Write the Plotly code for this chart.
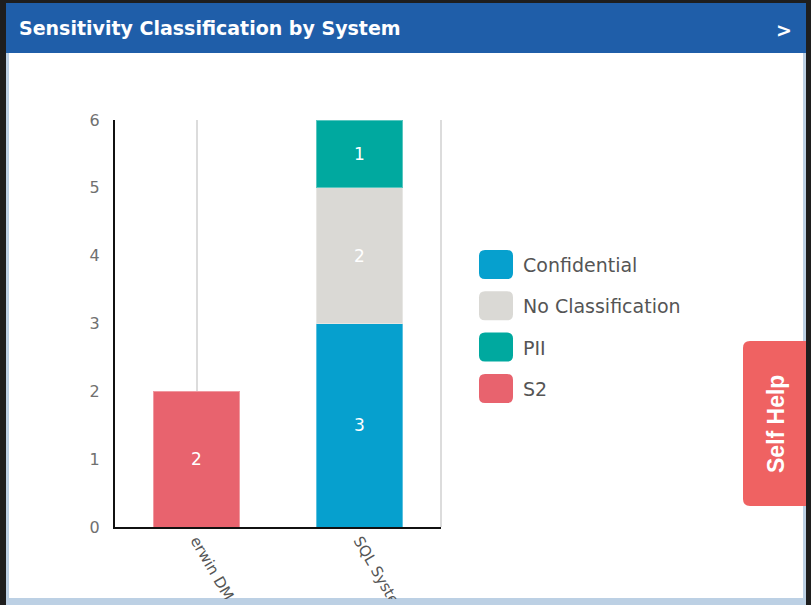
import plotly.graph_objects as go

# ---- data ----
systems = ["erwin DM", "SQL System"]
categories = ["Confidential", "No Classification", "PII", "S2"]
confidential = [None, 3]
no_classification = [None, 2]
pii = [None, 1]
s2 = [2, None]
y_ticks = [0, 1, 2, 3, 4, 5, 6]

series_values = [confidential, no_classification, pii, s2]
colors = ["#06A0CE", "#DAD9D5", "#00A99F", "#E8636E"]

W, H = 811, 605
PLOT_L, PLOT_R, PLOT_T, PLOT_B = 115, 441, 120, 527

FONT = "DejaVu Sans"


def px(x):
    return (x - PLOT_L) / (PLOT_R - PLOT_L)


def py(y):
    return (PLOT_B - y) / (PLOT_B - PLOT_T)


def rect(x0, y0, x1, y1, color, layer="below"):
    return dict(type="rect", xref="paper", yref="paper",
                x0=px(x0), x1=px(x1), y0=py(y1), y1=py(y0),
                fillcolor=color, line=dict(width=0), layer=layer)


def rounded(x0, y0, x1, y1, r, color, left_only=False, layer="above"):
    X0, X1 = px(x0), px(x1)
    Y0, Y1 = py(y0), py(y1)  # Y0 top, Y1 bottom (paper)
    rx = r / (PLOT_R - PLOT_L)
    ry = r / (PLOT_B - PLOT_T)
    if left_only:
        path = (f"M {X1} {Y0} L {X0+rx} {Y0} Q {X0} {Y0} {X0} {Y0-ry} "
                f"L {X0} {Y1+ry} Q {X0} {Y1} {X0+rx} {Y1} L {X1} {Y1} Z")
    else:
        path = (f"M {X0+rx} {Y0} L {X1-rx} {Y0} Q {X1} {Y0} {X1} {Y0-ry} "
                f"L {X1} {Y1+ry} Q {X1} {Y1} {X1-rx} {Y1} "
                f"L {X0+rx} {Y1} Q {X0} {Y1} {X0} {Y1+ry} "
                f"L {X0} {Y0-ry} Q {X0} {Y0} {X0+rx} {Y0} Z")
    return dict(type="path", xref="paper", yref="paper", path=path,
                fillcolor=color, line=dict(width=0), layer=layer)


fig = go.Figure()
for name, vals, col in zip(categories, series_values, colors):
    fig.add_trace(go.Bar(
        x=systems, y=vals, name=name,
        marker=dict(color=col, line=dict(color="rgba(255,255,255,0.35)", width=1)),
        text=[str(v) if v else "" for v in vals],
        textposition="inside", insidetextanchor="middle",
        textfont=dict(color="white", size=17, family=FONT),
        width=0.53, showlegend=False,
    ))

shapes = [
    # panel frame, content area and header
    rect(6, 3, 806, 604, "#BCD0E4"),
    rect(9, 53, 803, 598, "#FFFFFF"),
    rect(6, 3, 806, 53, "#1F5EA9"),
    # right edge line of the plot area
    dict(type="line", xref="x domain", yref="y domain", x0=1, x1=1, y0=0, y1=1,
         line=dict(color="#DCDCDC", width=2), layer="below"),
    # bottom frame of the panel, drawn over the slanted category labels
    rect(6, 599, 806, 605, "#BCD0E4", layer="above"),
    # Self Help tab
    rounded(743, 341, 806, 506, 7, "#EF6262", left_only=True),
]

annotations = [
    dict(text="<b>Sensitivity Classification by System</b>", xref="paper", yref="paper",
         x=px(17), y=py(28), xanchor="left", yanchor="middle", showarrow=False,
         font=dict(color="white", size=19, family=FONT)),
    dict(text="<b>&gt;</b>", xref="paper", yref="paper",
         x=px(784), y=py(30), xanchor="center", yanchor="middle", showarrow=False,
         font=dict(color="white", size=19, family=FONT)),
    dict(text="<b>Self Help</b>", xref="paper", yref="paper", textangle=-90,
         x=px(776), y=py(424), xanchor="center", yanchor="middle", showarrow=False,
         font=dict(color="white", size=23, family="Liberation Sans")),
]

# legend swatches and labels
for i, (name, col) in enumerate(zip(categories, colors)):
    top = 250 + i * 41.3
    shapes.append(rounded(479, top, 513, top + 29, 6, col, layer="above"))
    annotations.append(dict(text=name, xref="paper", yref="paper",
                            x=px(521), y=py(top + 15), xanchor="left", yanchor="middle",
                            showarrow=False,
                            font=dict(color="#555555", size=19, family=FONT)))

fig.update_layout(
    width=W, height=H,
    margin=dict(l=PLOT_L, r=W - PLOT_R, t=PLOT_T, b=H - PLOT_B, pad=0),
    paper_bgcolor="#1E1E1E", plot_bgcolor="rgba(0,0,0,0)",
    barmode="stack", bargap=0.47,
    shapes=shapes, annotations=annotations,
    font=dict(family=FONT),
)
fig.update_xaxes(
    type="category", range=[-0.5, 1.5], automargin=False,
    showgrid=True, gridcolor="#DCDCDC", gridwidth=2,
    showline=True, linecolor="#111111", linewidth=2,
    ticks="", tickangle=60, ticklabelstandoff=-3,
    tickfont=dict(color="#555555", size=15, family=FONT),
)
fig.update_yaxes(
    range=[0, 6], tickvals=y_ticks, showgrid=False, zeroline=False,
    showline=True, linecolor="#111111", linewidth=2, automargin=False,
    ticks="", ticklabelstandoff=10,
    tickfont=dict(color="#707070", size=16, family=FONT),
)

fig.write_html("out.html")
